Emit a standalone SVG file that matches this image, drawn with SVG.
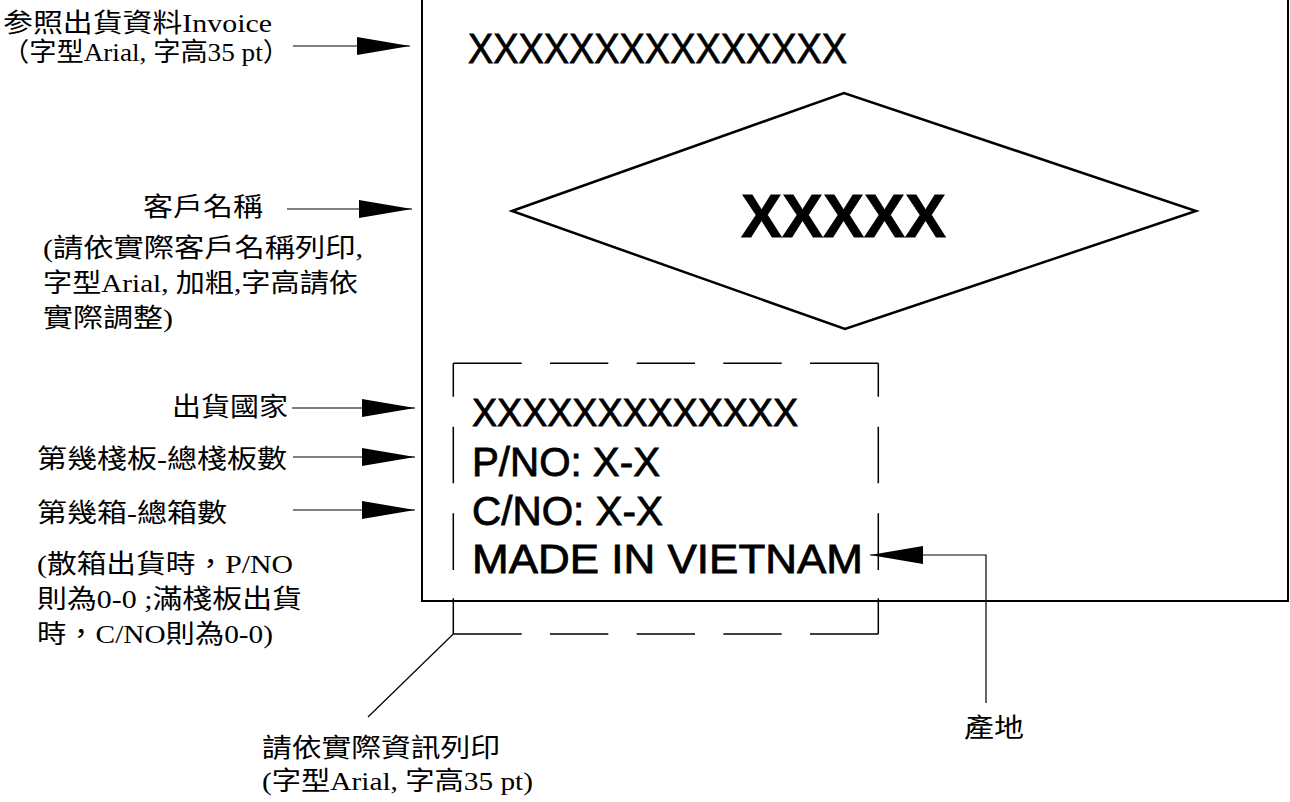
<svg xmlns="http://www.w3.org/2000/svg" width="1290" height="802" viewBox="0 0 1290 802">
<style>
.lbl{font-family:"Liberation Serif","Noto Sans CJK TC","Noto Sans CJK JP",serif;font-size:26px;fill:#000}
.ar{font-family:"Liberation Sans",Arial,sans-serif;fill:#000;stroke:#000;stroke-width:0.8}
.ln{fill:none;stroke:#000;stroke-width:1.2}
.arr{fill:none;stroke:#000;stroke-width:1.2;marker-end:url(#ah)}
</style>
<defs>
<marker id="ah" markerUnits="userSpaceOnUse" markerWidth="54" markerHeight="20" viewBox="0 0 54 20" refX="53" refY="10" orient="auto">
<path d="M0,1 L53,10 L0,19 Z" fill="#000"/>
</marker>
</defs>
<rect width="1290" height="802" fill="#fff"/>

<g id="label-box">
<path d="M422,-5 V601 H1288 V-5" fill="none" stroke="#000" stroke-width="2"/>
</g>

<g id="invoice-text">
<text class="ar" x="468" y="63" font-size="43" stroke-width="1.3" textLength="379" lengthAdjust="spacingAndGlyphs">XXXXXXXXXXXXXXX</text>
</g>

<g id="customer-diamond">
<polygon points="512,211 844,93 1196,211 845,329" fill="none" stroke="#000" stroke-width="2.5"/>
<text class="ar" x="741" y="237" font-size="61" font-weight="bold" stroke-width="0.5" textLength="205" lengthAdjust="spacingAndGlyphs">XXXXX</text>
</g>

<g id="info-box">
<path d="M453.3,363.3 H521.7 M550,363.3 H608.3 M636.7,363.3 H695 M723.3,363.3 H781.7 M810,363.3 H878.3
M453.3,634 H521.7 M550,634 H608.3 M636.7,634 H695 M723.3,634 H781.7 M810,634 H878.3
M453.3,363.3 V396.7 M453.3,426.7 V483.3 M453.3,513.3 V570 M453.3,598.3 V634
M878.3,363.3 V396.7 M878.3,426.7 V483.3 M878.3,513.3 V570 M878.3,598.3 V634" fill="none" stroke="#000" stroke-width="1.5"/>
<text class="ar" x="472" y="426" font-size="39" textLength="326" lengthAdjust="spacingAndGlyphs">XXXXXXXXXXXXX</text>
<text class="ar" x="472" y="476" font-size="41" textLength="188" lengthAdjust="spacingAndGlyphs">P/NO: X-X</text>
<text class="ar" x="472" y="525" font-size="41" textLength="191" lengthAdjust="spacingAndGlyphs">C/NO: X-X</text>
<text class="ar" x="472" y="573" font-size="41" textLength="391" lengthAdjust="spacingAndGlyphs">MADE IN VIETNAM</text>
</g>

<g id="note-invoice">
<text class="lbl" x="3" y="32" textLength="269" lengthAdjust="spacingAndGlyphs">参照出貨資料Invoice</text>
<text class="lbl" x="2" y="61" textLength="288" lengthAdjust="spacingAndGlyphs">（字型Arial, 字高35 pt）</text>
</g>

<g id="note-customer">
<text class="lbl" x="143" y="216" textLength="120" lengthAdjust="spacingAndGlyphs">客戶名稱</text>
<text class="lbl" x="43" y="257" textLength="320" lengthAdjust="spacingAndGlyphs">(請依實際客戶名稱列印,</text>
<text class="lbl" x="43" y="292" textLength="315" lengthAdjust="spacingAndGlyphs">字型Arial, 加粗,字高請依</text>
<text class="lbl" x="43" y="327" textLength="130" lengthAdjust="spacingAndGlyphs">實際調整)</text>
</g>

<g id="note-country">
<text class="lbl" x="172" y="416" textLength="116" lengthAdjust="spacingAndGlyphs">出貨國家</text>
</g>

<g id="note-pallet">
<text class="lbl" x="37" y="468" textLength="250" lengthAdjust="spacingAndGlyphs">第幾棧板-總棧板數</text>
</g>

<g id="note-carton">
<text class="lbl" x="37" y="522" textLength="190" lengthAdjust="spacingAndGlyphs">第幾箱-總箱數</text>
<text class="lbl" x="37" y="573" textLength="256" lengthAdjust="spacingAndGlyphs">(散箱出貨時，P/NO</text>
<text class="lbl" x="37" y="608" textLength="265" lengthAdjust="spacingAndGlyphs">則為0-0 ;滿棧板出貨</text>
<text class="lbl" x="37" y="643" textLength="236" lengthAdjust="spacingAndGlyphs">時，C/NO則為0-0)</text>
</g>

<g id="note-print">
<text class="lbl" x="262" y="757" textLength="238" lengthAdjust="spacingAndGlyphs">請依實際資訊列印</text>
<text class="lbl" x="262" y="790" textLength="271" lengthAdjust="spacingAndGlyphs">(字型Arial, 字高35 pt)</text>
</g>

<g id="note-origin">
<text class="lbl" x="964" y="737" textLength="60" lengthAdjust="spacingAndGlyphs">產地</text>
</g>

<g id="connectors">
<path class="arr" d="M293,46 H410"/>
<path class="arr" d="M287,209 H412"/>
<path class="arr" d="M292,408 H415"/>
<path class="arr" d="M293,457 H415"/>
<path class="arr" d="M293,510 H415"/>
<path class="arr" d="M986,703 V555 H870"/>
<path class="ln" d="M453.3,634 L368,717"/>
</g>
</svg>
